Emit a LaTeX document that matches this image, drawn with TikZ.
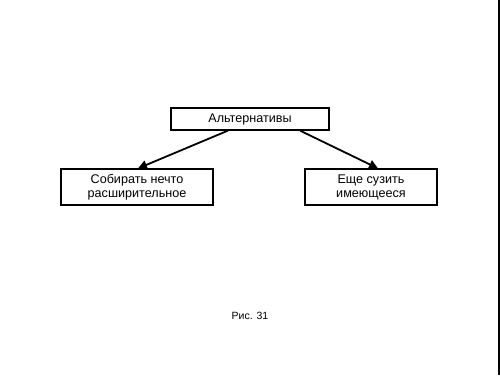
\documentclass[tikz,border=0pt]{standalone}
\usepackage{fontspec}
\setmainfont{Liberation Sans}
\usetikzlibrary{arrows.meta,calc}
\begin{document}
\begin{tikzpicture}[x=1pt,y=-1pt,
  box/.style={draw,line width=1.2pt,inner sep=0pt,font=\fontsize{12.6}{14}\selectfont,align=center},
  conn/.style={line width=1.8pt,-{Triangle[length=9pt,width=9pt]}}]
\useasboundingbox (0,0) rectangle (500,375);
\fill[white] (0,0) rectangle (500,375);
\draw[line width=1.2pt] (499,0) -- (499,375);
\node[box,minimum width=158pt,minimum height=22pt] (top) at (250,119) {Альтернативы};
\node[box,minimum width=152pt,minimum height=36pt] (left) at (137,187) {Собирать нечто\\расширительное};
\node[box,minimum width=132pt,minimum height=36pt] (right) at (371,187) {Еще сузить\\имеющееся};
\draw[conn] ($(top.south)+(-22,0)$) -- ($(left.north)+(1,0)$);
\draw[conn] ($(top.south)+(50,0)$) -- ($(right.north)+(7,0)$);
\node[font=\fontsize{10.5}{12}\selectfont] (cap) at (250,316) {Рис. 31};
\end{tikzpicture}
\end{document}
